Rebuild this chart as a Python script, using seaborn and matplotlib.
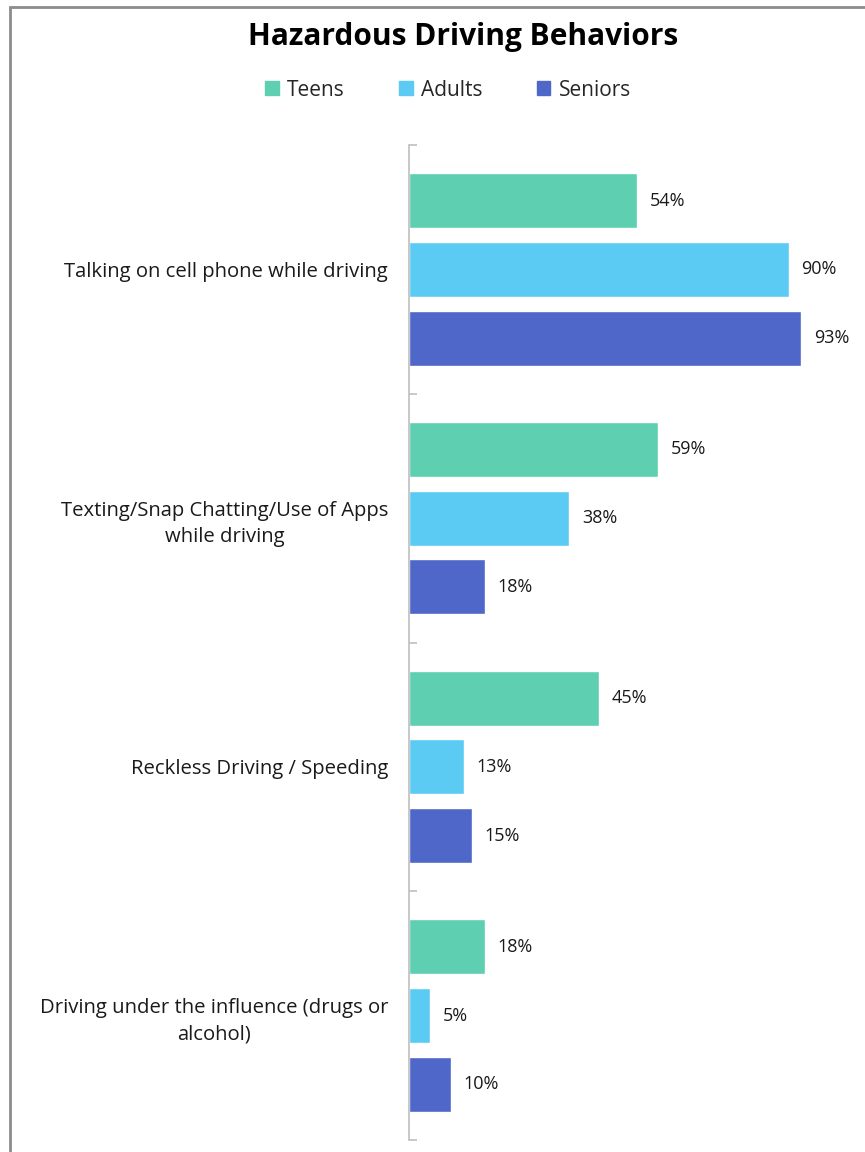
import matplotlib
matplotlib.use("Agg")
import matplotlib.pyplot as plt
import seaborn as sns
import pandas as pd
from matplotlib.patches import Rectangle
from matplotlib.ticker import FixedLocator

categories = [
    "Talking on cell phone while driving",
    "Texting/Snap Chatting/Use of Apps\nwhile driving",
    "Reckless Driving / Speeding",
    "Driving under the influence (drugs or\nalcohol)",
]
groups = ["Teens", "Adults", "Seniors"]
teens = [54, 59, 45, 18]
adults = [90, 38, 13, 5]
seniors = [93, 18, 15, 10]
colors = ["#5ECFB1", "#5BCBF3", "#4F67C8"]

rows = []
for g, vals in zip(groups, [teens, adults, seniors]):
    for c, v in zip(categories, vals):
        rows.append({"behavior": c, "group": g, "value": v})
df = pd.DataFrame(rows)

sns.set_theme(style="white")
plt.rcParams["font.family"] = ["Open Sans", "DejaVu Sans"]

fig = plt.figure(figsize=(8.65, 11.52), dpi=100)
ax = fig.add_axes([409 / 865, 12 / 1152, 422 / 865, 995 / 1152])

sns.barplot(data=df, y="behavior", x="value", hue="group", orient="h",
            palette=colors, width=0.83, gap=0.2, ax=ax, legend=False,
            saturation=1)

ax.set_xlim(0, 100)
ax.set_ylim(3.5, -0.5)
ax.set_xlabel("")
ax.set_ylabel("")
ax.xaxis.set_visible(False)
for s in ["top", "right", "bottom"]:
    ax.spines[s].set_visible(False)
ax.spines["left"].set_color("#BFBFBF")
ax.spines["left"].set_linewidth(1.2)

ax.set_yticks(range(len(categories)))
ax.set_yticklabels(categories, fontsize=14.6, color="#1a1a1a",
                   multialignment="center", linespacing=1.45)
ax.tick_params(axis="y", which="major", length=0, pad=15)
ax.yaxis.set_minor_locator(FixedLocator([-0.5, 0.5, 1.5, 2.5, 3.5]))
ax.tick_params(axis="y", which="minor", left=True, length=6, direction="in",
               color="#BFBFBF", width=1.2)

for cont in ax.containers:
    ax.bar_label(cont, labels=[f"{int(round(v))}%" for v in cont.datavalues],
                 padding=9, fontsize=13, color="#1a1a1a")

fig.text(463 / 865, 1 - 37 / 1152, "Hazardous Driving Behaviors", ha="center", va="center",
         fontsize=21.5, fontweight="bold", color="black")

handles = [Rectangle((0, 0), 1, 1, color=c) for c in colors]
fig.legend(handles, groups, loc="center", bbox_to_anchor=(448 / 865, 1 - 90 / 1152),
           ncol=3, frameon=False, fontsize=15, handlelength=0.65, handleheight=0.65,
           handletextpad=0.4, columnspacing=2.6)

fig.patches.append(Rectangle((10 / 865, -0.05), 1.1, 1 - 7 / 1152 + 0.05, transform=fig.transFigure,
                             fill=False, edgecolor="#8C8C8C", linewidth=2, zorder=10))

fig.savefig("out.png", dpi=100)
